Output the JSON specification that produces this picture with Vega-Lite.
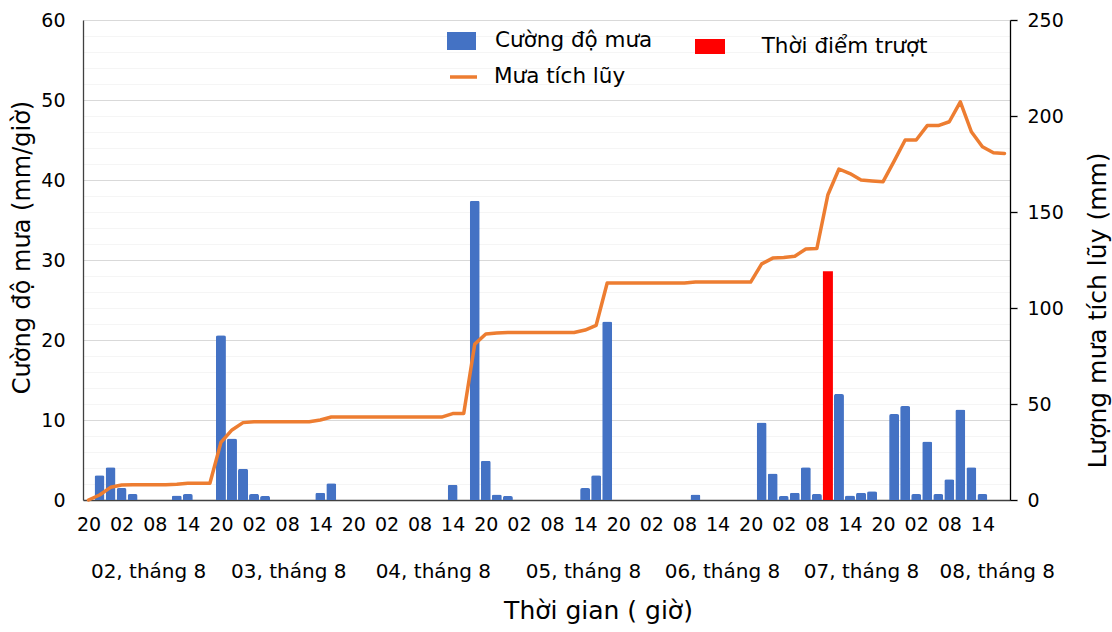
{
  "$schema": "https://vega.github.io/schema/vega-lite/v6.json",
  "width": 927,
  "height": 480,
  "autosize": {"type": "none"},
  "padding": {"left": 83, "top": 20, "right": 102, "bottom": 132},
  "background": "white",
  "config": {
    "view": {"stroke": null},
    "font": "DejaVu Sans",
    "axis": {"labelFont": "DejaVu Sans", "titleFont": "DejaVu Sans", "labelColor": "#000000", "titleColor": "#000000", "titleFontWeight": "normal"},
    "legend": {"labelFont": "DejaVu Sans", "labelColor": "#000000", "labelFontSize": 21.5, "labelLimit": 400, "padding": 0, "title": null}
  },
  "data": {
    "values": [
      {"t": 20, "mua": 0, "tichluy": 0},
      {"t": 22, "mua": 3.1, "tichluy": 2.6},
      {"t": 24, "mua": 4.1, "tichluy": 6.6},
      {"t": 26, "mua": 1.5, "tichluy": 7.8},
      {"t": 28, "mua": 0.75, "tichluy": 8.0},
      {"t": 30, "mua": 0, "tichluy": 8.0},
      {"t": 32, "mua": 0, "tichluy": 8.0},
      {"t": 34, "mua": 0, "tichluy": 8.0},
      {"t": 36, "mua": 0.55, "tichluy": 8.2},
      {"t": 38, "mua": 0.75, "tichluy": 8.7},
      {"t": 40, "mua": 0, "tichluy": 8.7},
      {"t": 42, "mua": 0, "tichluy": 8.7},
      {"t": 44, "mua": 20.6, "tichluy": 30.0},
      {"t": 46, "mua": 7.7, "tichluy": 36.5},
      {"t": 48, "mua": 3.9, "tichluy": 40.3},
      {"t": 50, "mua": 0.75, "tichluy": 40.8},
      {"t": 52, "mua": 0.5, "tichluy": 40.8},
      {"t": 54, "mua": 0, "tichluy": 40.8},
      {"t": 56, "mua": 0, "tichluy": 40.8},
      {"t": 58, "mua": 0, "tichluy": 40.8},
      {"t": 60, "mua": 0, "tichluy": 40.8},
      {"t": 62, "mua": 0.9, "tichluy": 41.7},
      {"t": 64, "mua": 2.1, "tichluy": 43.2},
      {"t": 66, "mua": 0, "tichluy": 43.2},
      {"t": 68, "mua": 0, "tichluy": 43.2},
      {"t": 70, "mua": 0, "tichluy": 43.2},
      {"t": 72, "mua": 0, "tichluy": 43.2},
      {"t": 74, "mua": 0, "tichluy": 43.2},
      {"t": 76, "mua": 0, "tichluy": 43.2},
      {"t": 78, "mua": 0, "tichluy": 43.2},
      {"t": 80, "mua": 0, "tichluy": 43.2},
      {"t": 82, "mua": 0, "tichluy": 43.2},
      {"t": 84, "mua": 0, "tichluy": 43.2},
      {"t": 86, "mua": 1.9, "tichluy": 45.0},
      {"t": 88, "mua": 0, "tichluy": 45.0},
      {"t": 90, "mua": 37.4, "tichluy": 81.2},
      {"t": 92, "mua": 4.9, "tichluy": 86.5},
      {"t": 94, "mua": 0.7, "tichluy": 87.0},
      {"t": 96, "mua": 0.5, "tichluy": 87.2},
      {"t": 98, "mua": 0, "tichluy": 87.2},
      {"t": 100, "mua": 0, "tichluy": 87.2},
      {"t": 102, "mua": 0, "tichluy": 87.2},
      {"t": 104, "mua": 0, "tichluy": 87.2},
      {"t": 106, "mua": 0, "tichluy": 87.2},
      {"t": 108, "mua": 0, "tichluy": 87.2},
      {"t": 110, "mua": 1.5, "tichluy": 88.5},
      {"t": 112, "mua": 3.1, "tichluy": 91.0},
      {"t": 114, "mua": 22.3, "tichluy": 113.0},
      {"t": 116, "mua": 0, "tichluy": 113.0},
      {"t": 118, "mua": 0, "tichluy": 113.0},
      {"t": 120, "mua": 0, "tichluy": 113.0},
      {"t": 122, "mua": 0, "tichluy": 113.0},
      {"t": 124, "mua": 0, "tichluy": 113.0},
      {"t": 126, "mua": 0, "tichluy": 113.0},
      {"t": 128, "mua": 0, "tichluy": 113.0},
      {"t": 130, "mua": 0.7, "tichluy": 113.5},
      {"t": 132, "mua": 0, "tichluy": 113.5},
      {"t": 134, "mua": 0, "tichluy": 113.5},
      {"t": 136, "mua": 0, "tichluy": 113.5},
      {"t": 138, "mua": 0, "tichluy": 113.5},
      {"t": 140, "mua": 0, "tichluy": 113.5},
      {"t": 142, "mua": 9.7, "tichluy": 123.0},
      {"t": 144, "mua": 3.3, "tichluy": 126.0},
      {"t": 146, "mua": 0.5, "tichluy": 126.3},
      {"t": 148, "mua": 0.9, "tichluy": 127.0},
      {"t": 150, "mua": 4.1, "tichluy": 130.7},
      {"t": 152, "mua": 0.75, "tichluy": 131.0},
      {"t": 154, "mua": 0, "tichluy": 159.0, "truot": 28.6},
      {"t": 156, "mua": 13.25, "tichluy": 172.4},
      {"t": 158, "mua": 0.55, "tichluy": 170.0},
      {"t": 160, "mua": 0.9, "tichluy": 166.7},
      {"t": 162, "mua": 1.1, "tichluy": 166.2},
      {"t": 164, "mua": 0, "tichluy": 165.8},
      {"t": 166, "mua": 10.75, "tichluy": 176.5},
      {"t": 168, "mua": 11.75, "tichluy": 187.5},
      {"t": 170, "mua": 0.75, "tichluy": 187.5},
      {"t": 172, "mua": 7.3, "tichluy": 195.0},
      {"t": 174, "mua": 0.75, "tichluy": 195.0},
      {"t": 176, "mua": 2.6, "tichluy": 197.0},
      {"t": 178, "mua": 11.3, "tichluy": 207.4},
      {"t": 180, "mua": 4.1, "tichluy": 191.8},
      {"t": 182, "mua": 0.75, "tichluy": 184.0},
      {"t": 184, "mua": 0, "tichluy": 180.9},
      {"t": 186, "mua": 0, "tichluy": 180.5}
    ]
  },
  "layer": [
    {
      "transform": [{"filter": "datum.mua > 0"}],
      "mark": {"type": "bar", "size": 10, "cornerRadiusTopLeft": 2, "cornerRadiusTopRight": 2},
      "encoding": {
        "x": {
          "field": "t", "type": "quantitative",
          "scale": {"domain": [19, 187], "nice": false, "zero": false, "padding": 0},
          "axis": {
            "orient": "bottom",
            "values": [20, 26, 32, 38, 44, 50, 56, 62, 68, 74, 80, 86, 92, 98, 104, 110, 116, 122, 128, 134, 140, 146, 152, 158, 164, 170, 176, 182],
            "labelExpr": "(datum.value % 24 < 10 ? '0' : '') + (datum.value % 24)",
            "ticks": false, "grid": false, "domainColor": "#404040", "domainWidth": 1.3,
            "labelPadding": 15, "labelFontSize": 19, "labelFlush": false, "labelOverlap": false, "labelBound": false,
            "title": null
          }
        },
        "y": {
          "field": "mua", "type": "quantitative",
          "scale": {"domain": [0, 60], "nice": false},
          "axis": {
            "orient": "left", "values": [0, 10, 20, 30, 40, 50, 60],
            "grid": true, "gridColor": "#d9d9d9", "gridWidth": 1,
            "domainColor": "#404040", "domainWidth": 1.3, "ticks": false,
            "labelPadding": 18, "labelFontSize": 19,
            "title": "Cường độ mưa (mm/giờ)", "titleFontSize": 24, "titleAngle": 270,
            "titleBaseline": "middle", "titleAlign": "center", "titleX": -61, "titleY": 227
          }
        },
        "fill": {
          "datum": "Cường độ mưa", "type": "nominal",
          "scale": {"range": ["#4472C4"]},
          "legend": {
            "orient": "none", "legendX": 364, "legendY": 6.5,
            "symbolType": "M-1,-0.62L1,-0.62L1,0.62L-1,0.62Z", "symbolSize": 841, "symbolStrokeWidth": 0,
            "labelOffset": 19
          }
        }
      }
    },
    {
      "transform": [{"filter": "isValid(datum.truot)"}],
      "mark": {"type": "bar", "size": 10},
      "encoding": {
        "x": {
          "field": "t", "type": "quantitative",
          "scale": {"domain": [19, 187], "nice": false, "zero": false, "padding": 0},
          "axis": null
        },
        "y": {
          "field": "truot", "type": "quantitative",
          "scale": {"domain": [0, 60], "nice": false},
          "axis": {
            "orient": "left",
            "values": [2, 4, 6, 8, 12, 14, 16, 18, 22, 24, 26, 28, 32, 34, 36, 38, 42, 44, 46, 48, 52, 54, 56, 58],
            "grid": true, "gridColor": "#f5f5f5", "gridWidth": 1,
            "domain": false, "ticks": false, "labels": false, "title": null
          }
        },
        "fill": {
          "datum": "Thời điểm trượt", "type": "nominal",
          "scale": {"range": ["#FF0000"]},
          "legend": {
            "orient": "none", "legendX": 612, "legendY": 11.5,
            "symbolType": "M-1,-0.5L1,-0.5L1,0.5L-1,0.5Z", "symbolSize": 900, "symbolStrokeWidth": 0,
            "labelOffset": 36.7
          }
        }
      }
    },
    {
      "mark": {"type": "line", "strokeWidth": 3.5, "strokeJoin": "round", "strokeCap": "round"},
      "encoding": {
        "x": {
          "field": "t", "type": "quantitative",
          "scale": {"domain": [19, 187], "nice": false, "zero": false, "padding": 0},
          "axis": {
            "orient": "bottom",
            "values": [30.8, 56.2, 82.4, 109.6, 134.8, 160.0, 184.6],
            "labelExpr": "'0' + (floor(datum.value / 24) + 1) + ', tháng 8'",
            "domain": false, "ticks": false, "grid": false,
            "labelPadding": 61.5, "labelFontSize": 20, "labelFlush": false, "labelOverlap": false, "labelBound": false,
            "title": "Thời gian ( giờ)", "titleFontSize": 25,
            "titleBaseline": "middle", "titleAlign": "center", "titleX": 515, "titleY": 110
          }
        },
        "y": {
          "field": "tichluy", "type": "quantitative",
          "scale": {"domain": [0, 250], "nice": false},
          "axis": {
            "orient": "right", "values": [0, 50, 100, 150, 200, 250],
            "grid": false, "domainColor": "#000000", "domainWidth": 1.3,
            "ticks": true, "tickSize": 7, "tickColor": "#000000", "tickWidth": 1.3,
            "labelPadding": 10, "labelFontSize": 19,
            "title": "Lượng mưa tích lũy (mm)", "titleFontSize": 25, "titleAngle": 270,
            "titleBaseline": "middle", "titleAlign": "center", "titleX": 87, "titleY": 290
          }
        },
        "stroke": {
          "datum": "Mưa tích lũy", "type": "nominal",
          "scale": {"range": ["#ED7D31"]},
          "legend": {
            "orient": "none", "legendX": 365, "legendY": 41.5,
            "symbolType": "stroke", "symbolSize": 729, "symbolStrokeWidth": 3.5,
            "labelOffset": 15
          }
        }
      }
    }
  ],
  "resolve": {"scale": {"x": "independent", "y": "independent", "fill": "independent"}}
}
